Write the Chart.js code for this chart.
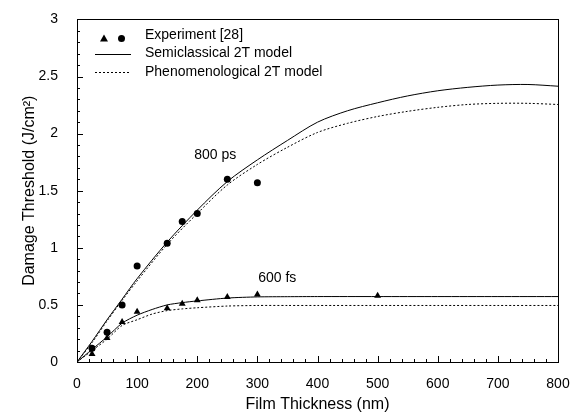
<!DOCTYPE html>
<html>
<head>
<meta charset="utf-8">
<script src="https://cdn.jsdelivr.net/npm/chart.js@4.4.1/dist/chart.umd.min.js"></script>
<style>
  html, body { margin: 0; padding: 0; background: #fff; }
  #wrap { width: 578px; height: 416px; }
</style>
</head>
<body>
<div id="wrap"><canvas id="thresholdChart" width="578" height="416"></canvas></div>
<script>
// ── DATA ────────────────────────────────────────────────────

// measured points (film thickness nm, threshold J/cm2)
const expPsX = [25, 50, 75, 100, 150, 175, 200, 250, 300];
const expPsY = [0.12, 0.26, 0.50, 0.84, 1.04, 1.23, 1.30, 1.60, 1.57];

const expFsX = [25, 50, 75, 100, 150, 175, 200, 250, 300, 500];
const expFsY = [0.07, 0.21, 0.35, 0.44, 0.47, 0.51, 0.54, 0.57, 0.59, 0.58];

// model curves
const modelPsX   = [0, 25, 50, 75, 100, 150, 200, 250, 300, 350, 400, 450, 500, 550, 600, 650, 700, 750, 800];
const semiPsY    = [0, 0.18, 0.37, 0.55, 0.73, 1.05, 1.33, 1.58, 1.77, 1.94, 2.10, 2.20, 2.27, 2.33, 2.375, 2.405, 2.425, 2.43, 2.415];
const phenoPsY   = [0, 0.17, 0.36, 0.54, 0.71, 1.03, 1.30, 1.55, 1.73, 1.88, 2.01, 2.09, 2.15, 2.195, 2.23, 2.255, 2.265, 2.265, 2.255];

const modelFsX   = [0, 25, 50, 75, 100, 125, 150, 175, 200, 250, 300, 350, 400, 500, 600, 700, 800];
const semiFsY    = [0, 0.11, 0.22, 0.34, 0.41, 0.46, 0.50, 0.52, 0.535, 0.56, 0.57, 0.572, 0.573, 0.573, 0.573, 0.573, 0.573];
const phenoFsY   = [0, 0.10, 0.20, 0.32, 0.37, 0.42, 0.45, 0.465, 0.475, 0.49, 0.495, 0.495, 0.495, 0.495, 0.495, 0.495, 0.495];

const legendItems = ['Experiment [28]', 'Semiclassical 2T model', 'Phenomenological 2T model'];
const notes = [
  { text: '800 ps', x: 230, y: 1.81 },
  { text: '600 fs', x: 333, y: 0.73 },
];

const pairs = (xs, ys) => xs.map((x, i) => ({ x: x, y: ys[i] }));

const FONT = '"Liberation Sans", Arial, sans-serif';

// ── FRAME, INWARD TICKS, LEGEND, NOTES ─────────────────────

const framePlugin = {
  id: 'frame',
  afterDraw(chart) {
    const c = chart.ctx;
    const a = chart.chartArea;
    const xs = chart.scales.x;
    const ys = chart.scales.y;

    c.save();
    c.strokeStyle = '#000';
    c.lineWidth = 1;
    c.strokeRect(Math.round(a.left) + 0.5, Math.round(a.top) + 0.5,
                 Math.round(a.right - a.left), Math.round(a.bottom - a.top));

    c.beginPath();
    for (let v = 0; v <= 800; v += 20) {
      const px = Math.round(xs.getPixelForValue(v)) + 0.5;
      const len = v % 100 === 0 ? 6 : 3;
      c.moveTo(px, a.bottom);
      c.lineTo(px, a.bottom - len);
    }
    for (let k = 0; k <= 30; k++) {
      const py = Math.round(ys.getPixelForValue(k / 10)) + 0.5;
      const len = k % 5 === 0 ? 6 : 3;
      c.moveTo(a.left, py);
      c.lineTo(a.left + len, py);
    }
    c.stroke();

    // notes
    c.fillStyle = '#000';
    c.font = '14px ' + FONT;
    c.textAlign = 'center';
    c.textBaseline = 'middle';
    notes.forEach(n => {
      c.fillText(n.text, xs.getPixelForValue(n.x), ys.getPixelForValue(n.y));
    });

    // legend
    c.textAlign = 'left';
    const rows = [35, 53, 72];
    c.fillText(legendItems[0], 145, rows[0]);
    c.fillText(legendItems[1], 145, rows[1]);
    c.fillText(legendItems[2], 145, rows[2]);

    c.beginPath();
    c.moveTo(104, 34.5); c.lineTo(108, 41.5); c.lineTo(100, 41.5); c.closePath();
    c.fill();
    c.beginPath();
    c.arc(121.5, 38.5, 3.5, 0, Math.PI * 2);
    c.fill();

    c.beginPath();
    c.moveTo(95, 54.5); c.lineTo(131, 54.5);
    c.stroke();
    c.setLineDash([2, 2]);
    c.beginPath();
    c.moveTo(95, 72.5); c.lineTo(131, 72.5);
    c.stroke();
    c.restore();
  }
};

// ── CHART ───────────────────────────────────────────────────

const ctx = document.getElementById('thresholdChart').getContext('2d');

new Chart(ctx, {
  type: 'scatter',
  data: {
    datasets: [
      { data: pairs(modelPsX, semiPsY),  showLine: true, borderColor: '#000', borderWidth: 1, pointRadius: 0, tension: 0.3 },
      { data: pairs(modelPsX, phenoPsY), showLine: true, borderColor: '#000', borderWidth: 1, borderDash: [2, 2], pointRadius: 0, tension: 0.3 },
      { data: pairs(modelFsX, semiFsY),  showLine: true, borderColor: '#000', borderWidth: 1, pointRadius: 0, tension: 0.25 },
      { data: pairs(modelFsX, phenoFsY), showLine: true, borderColor: '#000', borderWidth: 1, borderDash: [2, 2], pointRadius: 0, tension: 0.25 },
      { data: pairs(expPsX, expPsY), pointStyle: 'circle', pointRadius: 3.5, backgroundColor: '#000', borderColor: '#000', borderWidth: 0 },
      { data: pairs(expFsX, expFsY), pointStyle: 'triangle', pointRadius: 4, backgroundColor: '#000', borderColor: '#000', borderWidth: 0 },
    ]
  },
  options: {
    responsive: false,
    animation: false,
    layout: { padding: { top: 19, right: 20, left: 0, bottom: 0 } },
    plugins: {
      legend: { display: false },
      tooltip: { enabled: false }
    },
    scales: {
      x: {
        type: 'linear',
        min: 0, max: 800,
        afterFit(s) { s.height = 54; },
        grid: { display: false },
        border: { display: false },
        ticks: { stepSize: 100, color: '#000', padding: 6, maxRotation: 0, font: { size: 14, family: FONT } },
        title: { display: true, text: 'Film Thickness (nm)', color: '#000', font: { size: 16, family: FONT }, padding: { top: 0, bottom: 2 } }
      },
      y: {
        type: 'linear',
        min: 0, max: 3,
        afterFit(s) { s.width = 77; },
        grid: { display: false },
        border: { display: false },
        ticks: { stepSize: 0.5, color: '#000', padding: 11, font: { size: 14, family: FONT }, callback: v => String(v) },
        title: { display: true, text: 'Damage Threshold (J/cm²)', color: '#000', font: { size: 16, family: FONT }, padding: { top: 20, bottom: 0 } }
      }
    }
  },
  plugins: [framePlugin]
});
</script>
</body>
</html>
